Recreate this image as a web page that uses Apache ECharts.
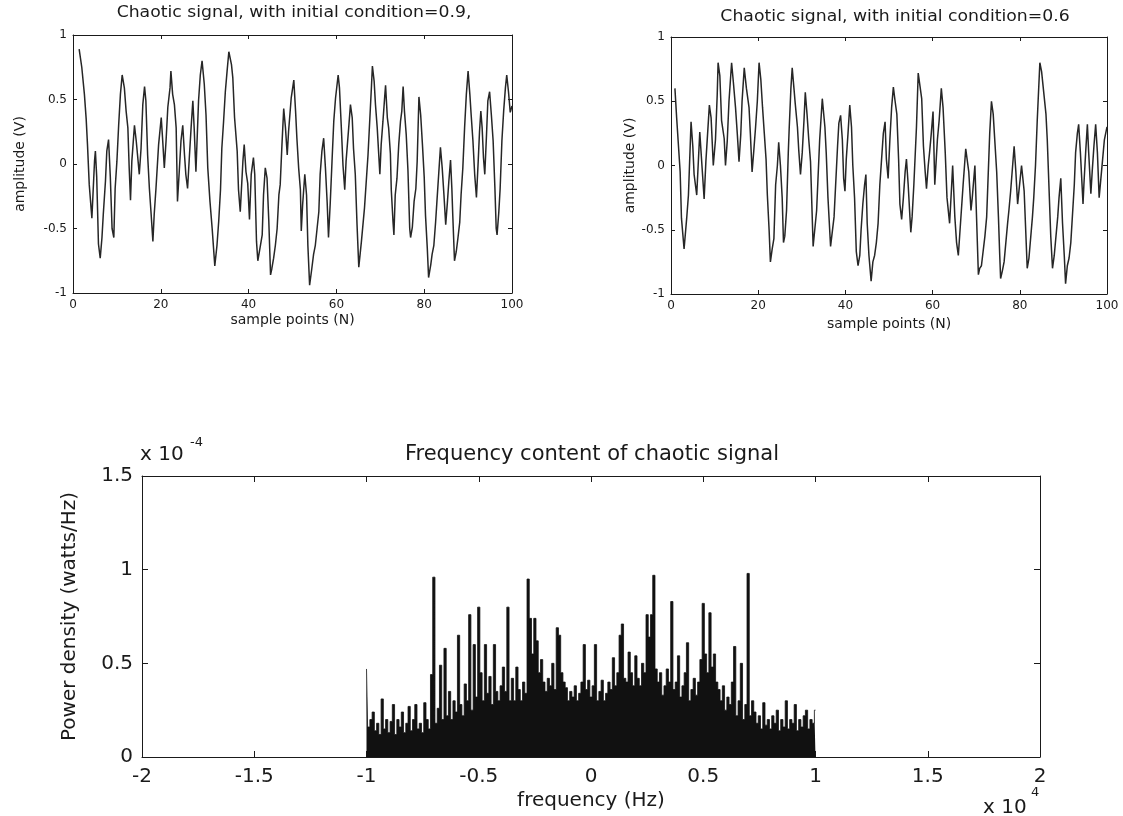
<!DOCTYPE html>
<html>
<head>
<meta charset="utf-8">
<script src="https://cdn.jsdelivr.net/npm/echarts@6/dist/echarts.min.js"></script>
<style>
html, body { margin: 0; padding: 0; background: #fff; }
#main { width: 1123px; height: 816px; }
</style>
</head>
<body>
<div id="main"></div>
<script>
/* chaotic signal, initial condition 0.9  [sample, amplitude] */
var sig09 = [
	[1.4,0.89],[2.0,0.75],[2.6,0.54],[3.0,0.35],[3.3,0.15],[3.7,-0.16],[4.3,-0.42],[4.9,0.02],[5.1,0.1],[5.4,-0.1],
	[5.8,-0.62],[6.2,-0.73],[6.6,-0.57],[6.9,-0.39],[7.4,-0.13],[7.7,0.1],[8.1,0.19],[8.5,-0.1],[8.9,-0.5],[9.3,-0.57],
	[9.6,-0.19],[10.0,0.02],[10.4,0.3],[10.8,0.54],[11.2,0.69],[11.7,0.59],[12.1,0.41],[12.5,0.28],[12.8,-0.03],[13.1,-0.28],
	[13.4,0.02],[14.0,0.3],[14.4,0.18],[14.7,0.07],[15.1,-0.08],[15.5,0.12],[15.9,0.46],[16.3,0.6],[16.6,0.49],[17.0,0.07],
	[17.4,-0.19],[17.8,-0.39],[18.2,-0.6],[18.5,-0.39],[18.9,-0.19],[19.5,0.15],[20.1,0.36],[20.4,0.2],[20.8,-0.03],[21.2,0.18],
	[21.6,0.44],[22.1,0.59],[22.3,0.72],[22.7,0.54],[23.1,0.46],[23.5,0.28],[23.8,-0.29],[24.2,-0.06],[24.6,0.18],[25.0,0.3],
	[25.4,0.07],[25.7,-0.08],[26.1,-0.19],[26.5,0.05],[26.9,0.28],[27.3,0.49],[27.6,0.28],[28.0,-0.06],[28.6,0.49],[29.0,0.69],
	[29.4,0.8],[29.9,0.62],[30.3,0.38],[30.7,-0.03],[31.2,-0.29],[31.7,-0.5],[32.3,-0.79],[32.8,-0.63],[33.2,-0.44],[33.6,-0.2],
	[33.9,0.12],[34.3,0.33],[34.7,0.56],[35.1,0.72],[35.5,0.87],[36.1,0.77],[36.4,0.67],[36.8,0.36],[37.4,0.1],[37.7,-0.2],
	[38.1,-0.37],[38.7,0.02],[39.0,0.15],[39.4,-0.06],[39.8,-0.15],[40.2,-0.43],[40.6,-0.08],[41.1,0.05],[41.4,-0.08],[41.8,-0.6],
	[42.1,-0.75],[42.7,-0.63],[43.1,-0.55],[43.4,-0.24],[43.8,-0.03],[44.2,-0.11],[44.6,-0.44],[45.0,-0.86],[45.3,-0.81],[45.7,-0.73],
	[46.1,-0.63],[46.5,-0.5],[46.9,-0.24],[47.2,-0.16],[47.6,0.15],[48.0,0.43],[48.4,0.28],[48.8,0.07],[49.1,0.25],[49.7,0.51],
	[50.3,0.65],[50.7,0.41],[51.0,0.2],[51.4,-0.03],[51.8,-0.2],[52.0,-0.52],[52.3,-0.32],[52.8,-0.08],[53.2,-0.24],[53.5,-0.63],
	[53.9,-0.94],[54.4,-0.81],[54.8,-0.7],[55.2,-0.63],[55.6,-0.5],[56.0,-0.37],[56.3,-0.08],[56.7,0.1],[57.1,0.2],[57.5,-0.03],
	[57.9,-0.3],[58.2,-0.57],[58.6,-0.3],[59.0,0.02],[59.4,0.33],[59.8,0.51],[60.4,0.69],[60.7,0.59],[61.1,0.3],[61.5,-0.01],
	[61.9,-0.2],[62.2,0.02],[62.8,0.28],[63.2,0.46],[63.6,0.36],[63.9,0.12],[64.3,-0.08],[64.7,-0.47],[65.1,-0.8],[65.7,-0.6],
	[66.4,-0.34],[67.2,0.07],[68.0,0.61],[68.2,0.76],[68.6,0.64],[68.9,0.46],[69.3,0.28],[69.9,-0.08],[70.2,0.15],[70.6,0.33],
	[71.0,0.52],[71.2,0.61],[71.6,0.36],[71.9,0.28],[72.3,0.08],[72.5,-0.2],[72.9,-0.45],[73.1,-0.55],[73.4,-0.24],[73.8,-0.11],
	[74.2,0.15],[74.6,0.33],[74.9,0.41],[75.2,0.6],[75.5,0.41],[75.9,0.23],[76.3,-0.05],[76.7,-0.5],[76.9,-0.57],[77.3,-0.49],
	[77.7,-0.29],[78.1,-0.19],[78.4,0.02],[78.8,0.52],[79.2,0.38],[79.6,0.15],[80.0,-0.1],[80.3,-0.4],[80.7,-0.65],[81.0,-0.88],
	[81.5,-0.78],[81.8,-0.7],[82.2,-0.63],[82.6,-0.45],[82.9,-0.29],[83.3,-0.08],[83.7,0.13],[84.1,-0.03],[84.5,-0.24],[84.9,-0.47],
	[85.3,-0.29],[85.6,-0.14],[86.0,0.03],[86.3,-0.19],[86.5,-0.39],[86.9,-0.75],[87.3,-0.68],[87.7,-0.57],[88.1,-0.45],[88.4,-0.24],
	[88.8,-0.03],[89.2,0.28],[89.6,0.54],[90.0,0.72],[90.4,0.54],[90.7,0.38],[91.1,0.18],[91.5,-0.08],[91.9,-0.26],[92.3,0.02],
	[92.6,0.25],[92.9,0.41],[93.2,0.28],[93.5,0.05],[93.8,-0.08],[94.2,0.23],[94.5,0.49],[94.9,0.56],[95.3,0.38],[95.7,0.18],
	[96.1,-0.18],[96.4,-0.5],[96.6,-0.55],[97.0,-0.37],[97.3,-0.19],[97.7,0.18],[98.1,0.41],[98.5,0.59],[98.8,0.69],[99.2,0.56],
	[99.6,0.4],[100,0.45]
];

/* chaotic signal, initial condition 0.6 */
var sig06 = [
	[0.9,0.6],[1.3,0.37],[2.1,-0.05],[2.4,-0.41],[3.0,-0.65],[3.6,-0.41],[4.0,-0.23],[4.6,0.34],[5.0,0.15],[5.3,-0.07],
	[5.9,-0.23],[6.3,0.05],[6.6,0.26],[7.0,0.05],[7.6,-0.26],[8.0,0.03],[8.8,0.47],[9.2,0.37],[9.7,0.0],[10.2,0.2],
	[10.6,0.55],[10.8,0.8],[11.2,0.7],[11.6,0.35],[12.2,0.21],[12.5,0.0],[12.9,0.19],[13.3,0.5],[13.9,0.8],[14.3,0.65],
	[14.8,0.45],[15.2,0.25],[15.6,0.03],[16.0,0.24],[16.3,0.5],[16.8,0.76],[17.3,0.6],[17.9,0.45],[18.2,0.25],[18.6,-0.05],
	[19.0,0.12],[19.4,0.3],[19.8,0.5],[20.2,0.8],[20.6,0.67],[21.0,0.45],[21.4,0.25],[21.8,0.05],[22.1,-0.23],[22.5,-0.5],
	[22.8,-0.75],[23.2,-0.65],[23.6,-0.57],[24.0,-0.15],[24.4,0.0],[24.7,0.18],[25.1,0.0],[25.5,-0.25],[25.8,-0.6],[26.1,-0.55],
	[26.5,-0.35],[26.9,0.1],[27.1,0.28],[27.5,0.6],[27.8,0.76],[28.2,0.6],[28.5,0.48],[29.0,0.3],[29.3,0.12],[29.7,-0.07],
	[30.1,0.1],[30.5,0.35],[30.8,0.57],[31.2,0.4],[31.6,0.2],[32.0,0.03],[32.6,-0.63],[33.4,-0.35],[34.1,0.2],[34.7,0.52],
	[35.3,0.3],[35.6,0.1],[36.0,-0.25],[36.6,-0.63],[37.4,-0.4],[38.2,0.15],[38.5,0.33],[38.9,0.39],[39.3,0.2],[39.6,-0.1],
	[39.9,-0.2],[40.2,0.05],[40.6,0.25],[41.0,0.47],[41.4,0.3],[41.7,0.0],[42.1,-0.25],[42.5,-0.67],[42.9,-0.78],[43.3,-0.7],
	[43.6,-0.5],[44.0,-0.3],[44.4,-0.15],[44.7,-0.07],[45.0,-0.45],[45.4,-0.7],[45.9,-0.9],[46.3,-0.75],[46.7,-0.7],[47.1,-0.6],
	[47.5,-0.45],[47.9,-0.15],[48.3,0.05],[48.7,0.25],[49.1,0.34],[49.4,0.05],[49.8,-0.1],[50.2,0.2],[50.6,0.45],[51.0,0.61],
	[51.4,0.5],[51.8,0.4],[52.2,0.05],[52.5,-0.3],[52.9,-0.42],[53.3,-0.25],[53.7,-0.05],[54.0,0.05],[54.4,-0.15],[54.8,-0.4],
	[55.0,-0.52],[55.3,-0.4],[55.7,-0.15],[56.3,0.3],[56.7,0.72],[57.1,0.62],[57.5,0.52],[57.9,0.15],[58.3,-0.05],[58.6,-0.18],
	[59.0,0.0],[59.3,0.1],[59.7,0.25],[60.1,0.42],[60.5,-0.15],[61.1,0.2],[61.5,0.35],[62.0,0.6],[62.4,0.45],[62.9,0.1],
	[63.3,-0.25],[63.9,-0.45],[64.3,-0.2],[64.6,0.0],[65.1,-0.4],[65.5,-0.6],[65.9,-0.7],[66.3,-0.5],[67.0,-0.15],[67.6,0.13],
	[68.3,-0.05],[68.8,-0.35],[69.1,-0.25],[69.7,0.0],[70.5,-0.85],[70.8,-0.8],[71.2,-0.78],[72.0,-0.55],[72.4,-0.4],[73.1,0.25],
	[73.5,0.5],[73.9,0.4],[74.7,-0.05],[75.1,-0.4],[75.4,-0.7],[75.6,-0.88],[76.0,-0.82],[76.4,-0.75],[77.2,-0.45],[77.5,-0.35],
	[77.9,-0.2],[78.7,0.15],[79.1,-0.05],[79.5,-0.3],[79.8,-0.2],[80.4,0.0],[81.0,-0.2],[81.7,-0.8],[82.1,-0.72],[82.9,-0.4],
	[83.2,-0.25],[83.6,0.0],[84.0,0.35],[84.6,0.8],[85.0,0.73],[86.0,0.4],[86.3,0.2],[87.1,-0.55],[87.5,-0.8],[87.9,-0.7],
	[88.3,-0.55],[88.7,-0.4],[89.0,-0.25],[89.4,-0.1],[89.8,-0.45],[90.2,-0.7],[90.5,-0.92],[90.9,-0.78],[91.3,-0.72],[91.7,-0.6],
	[92.5,-0.15],[92.8,0.1],[93.2,0.25],[93.5,0.32],[93.9,0.1],[94.5,-0.3],[94.7,-0.15],[95.1,0.1],[95.5,0.32],[95.8,0.1],
	[96.3,-0.22],[96.6,-0.05],[97.0,0.15],[97.4,0.32],[97.8,0.1],[98.2,-0.25],[98.6,-0.1],[99.0,0.05],[99.4,0.2],[100,0.3]
];

/* power density (x1e-4 W/Hz), one value per bin from -1 to 1 (x1e4 Hz), step 0.01 */
var psdStart = -1;
var psdStep = 0.01;
var psdValues = [
	0.47,0.16,0.2,0.24,0.14,0.18,0.12,0.31,0.15,0.2,
	0.13,0.19,0.28,0.12,0.2,0.16,0.24,0.13,0.18,0.27,
	0.14,0.2,0.28,0.15,0.18,0.13,0.29,0.2,0.15,0.44,
	0.96,0.18,0.26,0.49,0.2,0.58,0.22,0.35,0.2,0.3,
	0.24,0.65,0.28,0.22,0.39,0.3,0.76,0.25,0.6,0.32,
	0.8,0.45,0.3,0.6,0.34,0.43,0.28,0.6,0.35,0.3,
	0.38,0.48,0.35,0.8,0.3,0.42,0.3,0.48,0.36,0.3,
	0.4,0.34,0.95,0.74,0.55,0.74,0.62,0.45,0.52,0.4,
	0.35,0.42,0.38,0.5,0.36,0.69,0.65,0.45,0.4,0.37,
	0.3,0.35,0.32,0.38,0.3,0.34,0.4,0.6,0.36,0.41,
	0.32,0.38,0.6,0.3,0.35,0.41,0.3,0.34,0.4,0.36,
	0.53,0.38,0.45,0.65,0.71,0.42,0.4,0.56,0.45,0.38,
	0.54,0.42,0.38,0.5,0.45,0.76,0.64,0.76,0.97,0.47,
	0.4,0.45,0.33,0.38,0.47,0.4,0.83,0.36,0.4,0.54,
	0.32,0.38,0.45,0.61,0.3,0.36,0.42,0.33,0.4,0.52,
	0.82,0.55,0.45,0.77,0.48,0.55,0.4,0.36,0.3,0.38,
	0.25,0.32,0.28,0.4,0.59,0.22,0.3,0.5,0.2,0.28,
	0.98,0.22,0.3,0.24,0.18,0.22,0.15,0.29,0.17,0.2,
	0.15,0.22,0.18,0.25,0.14,0.2,0.16,0.3,0.15,0.2,
	0.18,0.28,0.14,0.2,0.16,0.22,0.25,0.15,0.2,0.18,
	0.25
];

var psd = [];
for (var i = 0; i < psdValues.length; i++) {
	psd.push([+(psdStart + i * psdStep).toFixed(2), psdValues[i]]);
}

var ink = '#1a1a1a';
var font = 'DejaVu Sans, sans-serif';

/* matlab style box axis: ticks inside, no grid */
function boxAxis(grid, pos, min, max, step, showLabel, size, tickLen, margin) {
	return {
		type: 'value',
		gridIndex: grid,
		position: pos,
		min: min,
		max: max,
		interval: step,
		axisLine: { show: true, onZero: false, lineStyle: { color: ink, width: 1 } },
		axisTick: { show: true, inside: true, length: tickLen, lineStyle: { color: ink } },
		axisLabel: { show: showLabel, color: ink, fontFamily: font, fontSize: size, margin: margin },
		splitLine: { show: false }
	};
}

var xAxes = [
	boxAxis(0, 'bottom', 0, 100, 20, true, 12, 4, 6),
	boxAxis(0, 'top', 0, 100, 20, false, 12, 4, 6),
	boxAxis(1, 'bottom', 0, 100, 20, true, 12, 4, 6),
	boxAxis(1, 'top', 0, 100, 20, false, 12, 4, 6),
	boxAxis(2, 'bottom', -2, 2, 0.5, true, 20, 6, 10),
	boxAxis(2, 'top', -2, 2, 0.5, false, 20, 6, 10)
];
xAxes[0].name = 'sample points (N)';
xAxes[2].name = 'sample points (N)';
xAxes[4].name = 'frequency (Hz)';
xAxes[0].nameGap = 20;
xAxes[2].nameGap = 23;
xAxes[4].nameGap = 34;
[0, 2].forEach(function (k) {
	xAxes[k].nameLocation = 'middle';
	xAxes[k].nameTextStyle = { color: ink, fontFamily: font, fontSize: 14 };
});
xAxes[4].nameLocation = 'middle';
xAxes[4].nameTextStyle = { color: ink, fontFamily: font, fontSize: 20 };

var yAxes = [
	boxAxis(0, 'left', -1, 1, 0.5, true, 12, 4, 6),
	boxAxis(0, 'right', -1, 1, 0.5, false, 12, 4, 6),
	boxAxis(1, 'left', -1, 1, 0.5, true, 12, 4, 6),
	boxAxis(1, 'right', -1, 1, 0.5, false, 12, 4, 6),
	boxAxis(2, 'left', 0, 1.5, 0.5, true, 20, 6, 9),
	boxAxis(2, 'right', 0, 1.5, 0.5, false, 20, 6, 9)
];
yAxes[0].name = 'amplitude (V)';
yAxes[2].name = 'amplitude (V)';
yAxes[4].name = 'Power density (watts/Hz)';
yAxes[0].nameGap = 46;
yAxes[2].nameGap = 32;
yAxes[4].nameGap = 62;
[0, 2].forEach(function (k) {
	yAxes[k].nameLocation = 'middle';
	yAxes[k].nameTextStyle = { color: ink, fontFamily: font, fontSize: 14 };
});
yAxes[4].nameLocation = 'middle';
yAxes[4].nameTextStyle = { color: ink, fontFamily: font, fontSize: 20 };

function label(text, x, y, size, align, stretch) {
	return {
		type: 'text',
		x: x,
		y: y,
		scaleX: stretch || 1,
		style: {
			text: text,
			fill: ink,
			fontSize: size,
			fontFamily: font,
			align: align || 'center',
			verticalAlign: 'middle'
		}
	};
}

var option = {
	backgroundColor: '#fff',
	animation: false,
	grid: [
		{ left: 73, top: 35, width: 439, height: 258 },
		{ left: 671, top: 37, width: 436, height: 257 },
		{ left: 142, top: 476, width: 898, height: 281 }
	],
	xAxis: xAxes,
	yAxis: yAxes,
	graphic: [
		label('Chaotic signal, with initial condition=0.9,', 294, 13, 15, 'center', 1.15),
		label('Chaotic signal, with initial condition=0.6', 895, 17, 15, 'center', 1.15),
		label('Frequency content of chaotic signal', 592, 455, 21),
		label('x 10', 140, 455, 20, 'left'),
		label('-4', 190, 443, 13, 'left'),
		label('x 10', 983, 808, 20, 'left'),
		label('4', 1031, 793, 13, 'left')
	],
	series: [
		{
			type: 'line',
			xAxisIndex: 0,
			yAxisIndex: 0,
			data: sig09,
			symbol: 'none',
			lineStyle: { color: '#262626', width: 1.5 }
		},
		{
			type: 'line',
			xAxisIndex: 2,
			yAxisIndex: 2,
			data: sig06,
			symbol: 'none',
			lineStyle: { color: '#262626', width: 1.5 }
		},
		{
			/* spectrum drawn as a filled staircase, one step per bin */
			type: 'line',
			xAxisIndex: 4,
			yAxisIndex: 4,
			data: psd,
			step: 'middle',
			symbol: 'none',
			sampling: 'none',
			lineStyle: { color: '#111', width: 0.8 },
			areaStyle: { color: '#111', opacity: 1 }
		}
	]
};

var chart = echarts.init(document.getElementById('main'));
chart.setOption(option);
</script>
</body>
</html>
